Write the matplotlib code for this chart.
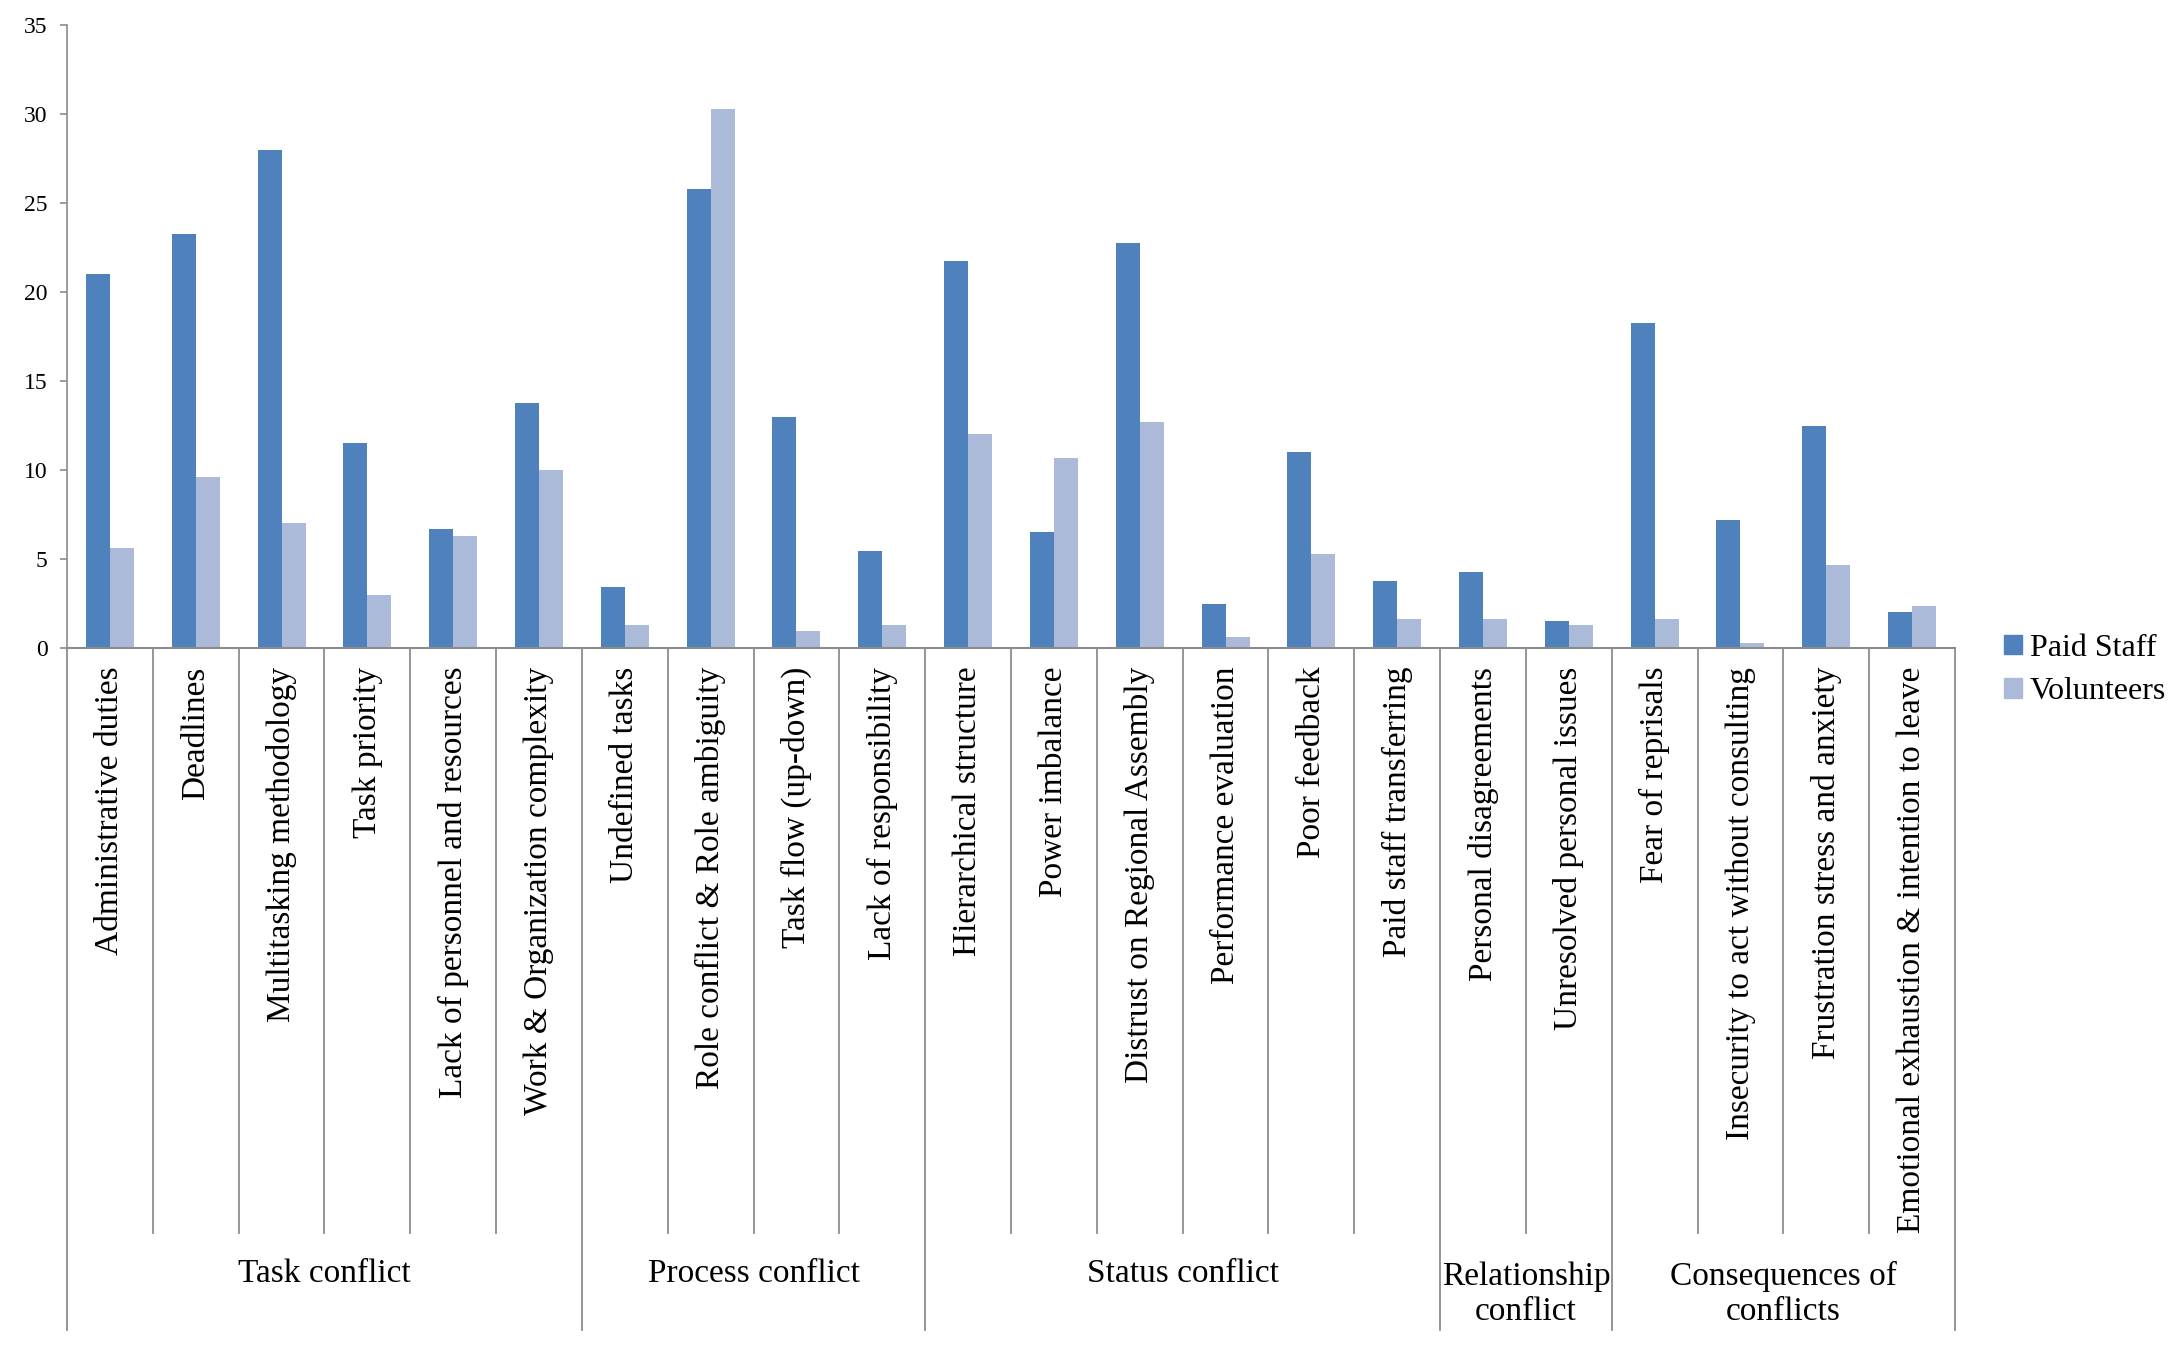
import numpy as np
import matplotlib.pyplot as plt
from matplotlib.patches import Patch

# data
categories = ["Administrative duties", "Deadlines", "Multitasking methodology",
              "Task priority", "Lack of personnel and resources",
              "Work & Organization complexity", "Undefined tasks",
              "Role conflict & Role ambiguity", "Task flow (up-down)",
              "Lack of responsibility", "Hierarchical structure", "Power imbalance",
              "Distrust on Regional Assembly", "Performance evaluation",
              "Poor feedback", "Paid staff transferring", "Personal disagreements",
              "Unresolved personal issues", "Fear of reprisals",
              "Insecurity to act without consulting", "Frustration stress and anxiety",
              "Emotional exhaustion & intention to leave"]
paid_staff = [21.0, 23.25, 28.0, 11.5, 6.7, 13.75, 3.45, 25.8, 13.0, 5.45,
              21.75, 6.5, 22.75, 2.5, 11.0, 3.75, 4.25, 1.5, 18.25, 7.2, 12.5, 2.0]
volunteers = [5.6, 9.6, 7.0, 2.95, 6.3, 10.0, 1.3, 30.3, 0.95, 1.3,
              12.0, 10.65, 12.7, 0.63, 5.3, 1.65, 1.65, 1.3, 1.65, 0.3, 4.65, 2.35]
groups = ["Task conflict", "Process conflict", "Status conflict",
          "Relationship\nconflict", "Consequences of\nconflicts"]
group_sizes = [6, 4, 6, 2, 4]

plt.rcParams['font.family'] = ['Liberation Serif', 'DejaVu Serif']

c_paid = "#4F81BD"
c_vol = "#AABAD8"
grey = "#8C8C8C"

fig = plt.figure(figsize=(21.72, 13.46), dpi=100)
ax = fig.add_axes([67/2172, 1-648/1346, (1955-67)/2172, (648-25)/1346])

x = np.arange(len(categories))
w = 0.28
ax.bar(x - w/2, paid_staff, w, color=c_paid)
ax.bar(x + w/2, volunteers, w, color=c_vol)

ax.set_xlim(-0.5, len(categories) - 0.5)
ax.set_ylim(0, 35)
ax.set_yticks(range(0, 36, 5))
ax.tick_params(axis='y', labelsize=17, length=5, color=grey, width=1.2, pad=9)
ax.set_xticks([])
for s in ["top", "right"]:
    ax.spines[s].set_visible(False)
ax.spines["left"].set_color(grey)
ax.spines["bottom"].set_color(grey)
ax.spines["left"].set_linewidth(1.2)
ax.spines["bottom"].set_linewidth(1.5)

trans = ax.get_xaxis_transform()
inner_bot = -0.939
group_bot = -1.095

# category labels
for i, name in enumerate(categories):
    ax.text(i, -0.03, name, rotation=90, ha='center', va='top',
            fontsize=24, transform=trans)

# separators and group labels
edges = np.concatenate([[0], np.cumsum(group_sizes)]) - 0.5
for k in range(len(categories) + 1):
    xe = k - 0.5
    bot = group_bot if xe in edges else inner_bot
    ax.plot([xe, xe], [0, bot], color=grey, lw=1.3, transform=trans, clip_on=False)

for g, name in enumerate(groups):
    mid = (edges[g] + edges[g+1]) / 2
    if "\n" in name:
        ax.text(mid, -1.037, name, ha='center', va='center', fontsize=24,
                linespacing=1.2, transform=trans)
    else:
        ax.text(mid, -1.005, name, ha='center', va='center', fontsize=24,
                transform=trans)

handles = [Patch(color=c_paid), Patch(color=c_vol)]
fig.legend(handles, ["Paid Staff", "Volunteers"], loc='center left',
           bbox_to_anchor=(1988/2172, 1-670/1346), frameon=False, fontsize=23,
           handlelength=0.55, handleheight=0.55, handletextpad=0.25,
           labelspacing=0.45, borderpad=0)

fig.savefig("out.png", dpi=100)
